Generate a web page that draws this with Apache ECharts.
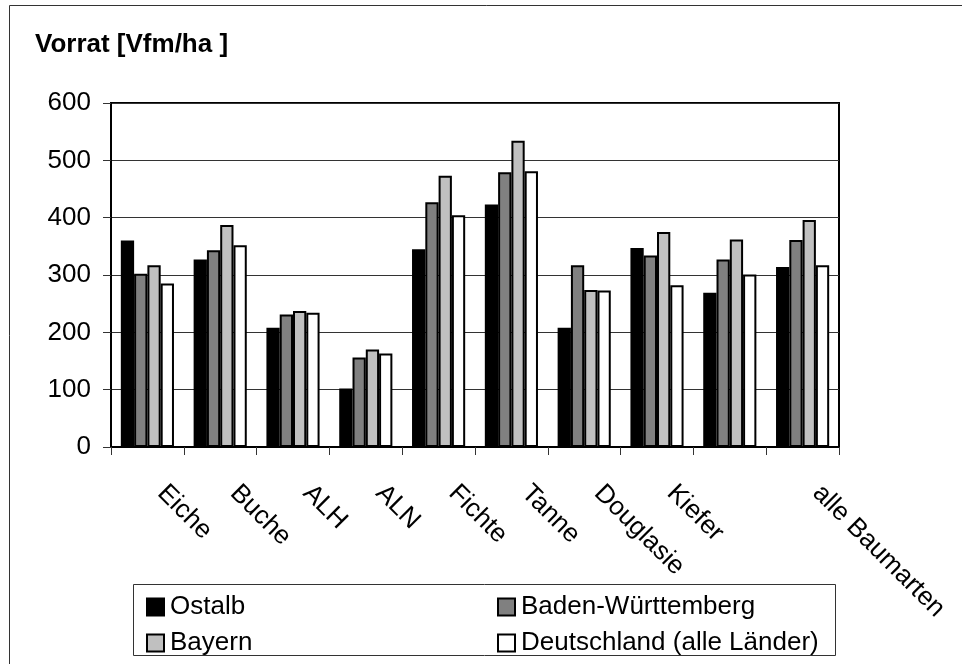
<!DOCTYPE html>
<html>
<head>
<meta charset="utf-8">
<script src="https://cdn.jsdelivr.net/npm/echarts@6/dist/echarts.min.js"></script>
<style>
  html, body { margin: 0; padding: 0; background: #fff; }
  #chart { width: 962px; height: 664px; }
</style>
</head>
<body>
<div id="chart"></div>
<script>
// Holzvorrat je Baumart (Vfm/ha)
const categories = ['Eiche', 'Buche', 'ALH', 'ALN', 'Fichte', 'Tanne', 'Douglasie', 'Kiefer', '', 'alle Baumarten'];
const ostalb      = [360, 327, 208, 102, 345, 423, 208, 347, 269, 314];
const badenWuertt = [302, 343, 231, 156, 427, 479, 317, 334, 327, 361];
const bayern      = [317, 387, 237, 170, 473, 534, 274, 375, 362, 396];
const deutschland = [285, 352, 234, 163, 404, 481, 273, 282, 301, 317];
const seriesNames = ['Ostalb', 'Baden-Württemberg', 'Bayern', 'Deutschland (alle Länder)'];
const yTicks = [0, 100, 200, 300, 400, 500, 600];

const FONT = "'Liberation Sans', Arial, sans-serif";
const fills = ['#000000', '#808080', '#c0c0c0', '#ffffff'];
const values = [ostalb, badenWuertt, bayern, deutschland];

const chart = echarts.init(document.getElementById('chart'), null, { renderer: 'canvas' });

// two-column legend grid
const legendPos = [
  { left: 146, top: 594 },
  { left: 497, top: 594 },
  { left: 146, top: 630 },
  { left: 497, top: 630 }
];

const option = {
  backgroundColor: '#ffffff',
  animation: false,
  title: {
    text: 'Vorrat [Vfm/ha ]',
    left: 35,
    top: 32,
    padding: 0,
    textStyle: { fontFamily: FONT, fontSize: 26, fontWeight: 'bold', color: '#000' }
  },
  legend: seriesNames.map((name, i) => ({
    data: [name],
    left: legendPos[i].left,
    top: legendPos[i].top,
    padding: 0,
    icon: 'rect',
    itemWidth: 17,
    itemHeight: 17,
    itemStyle: { borderColor: '#000', borderWidth: 2 },
    selectedMode: false,
    textStyle: { fontFamily: FONT, fontSize: 26, color: '#000', lineHeight: 17, padding: [0, 0, 0, 1] }
  })),
  grid: {
    left: 111,
    top: 103,
    width: 728,
    height: 344,
    show: true,
    borderColor: '#000',
    borderWidth: 2,
    backgroundColor: 'transparent'
  },
  xAxis: {
    type: 'category',
    data: categories,
    boundaryGap: true,
    axisLine: { show: true, lineStyle: { color: '#000', width: 2 } },
    axisTick: { show: true, alignWithLabel: false, length: 8, lineStyle: { color: '#333', width: 1 } },
    axisLabel: {
      interval: 0,
      rotate: -45,
      margin: 28,
      padding: [0, 0, 0, 20],
      fontFamily: FONT,
      fontSize: 26,
      color: '#000'
    },
    splitLine: { show: false }
  },
  yAxis: {
    type: 'value',
    min: yTicks[0],
    max: yTicks[yTicks.length - 1],
    interval: 100,
    axisLine: { show: true, lineStyle: { color: '#000', width: 2 } },
    axisTick: { show: true, length: 8, lineStyle: { color: '#333', width: 1 } },
    axisLabel: { margin: 20, fontFamily: FONT, fontSize: 26, color: '#000' },
    splitLine: { show: true, lineStyle: { color: '#333', width: 1 } }
  },
  series: seriesNames.map((name, i) => ({
    name: name,
    type: 'bar',
    data: values[i],
    barGap: '0%',
    barCategoryGap: '27%',
    itemStyle: { color: fills[i], borderColor: '#000', borderWidth: 2 },
    emphasis: { disabled: true }
  })),
  graphic: [
    {
      type: 'rect',
      silent: true,
      shape: { x: 9.5, y: 5.5, width: 1000, height: 1000 },
      style: { fill: 'none', stroke: '#333', lineWidth: 1 }
    },
    {
      type: 'rect',
      silent: true,
      z: -1,
      shape: { x: 133.5, y: 584.5, width: 702, height: 71 },
      style: { fill: 'none', stroke: '#333', lineWidth: 1 }
    }
  ]
};

chart.setOption(option);
</script>
</body>
</html>
